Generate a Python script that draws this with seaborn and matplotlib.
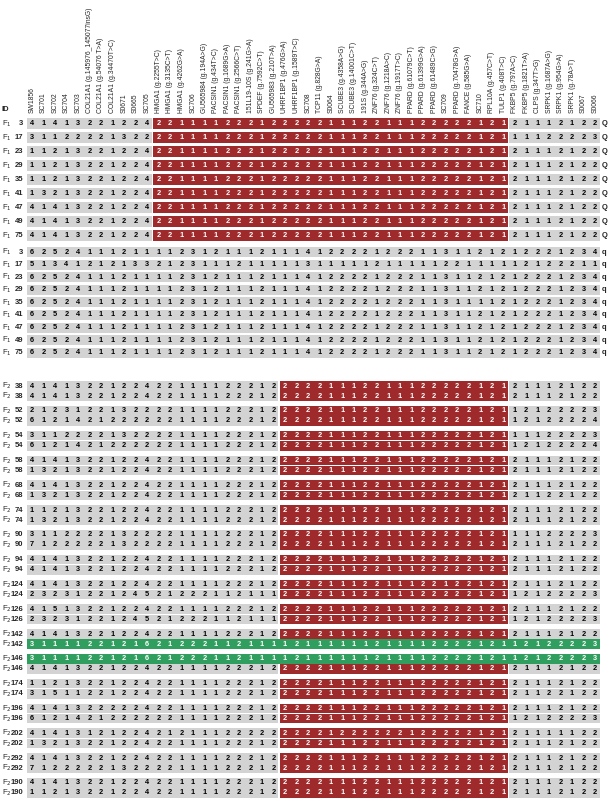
import matplotlib
matplotlib.use("Agg")
import matplotlib.pyplot as plt
import seaborn as sns

markers = [
    "SW1856", "SC701", "SC702", "SC704", "SC703",
    "COL21A1 (g.145976_145077insG)", "COL21A1 (g.54076 T>A)", "COL21A1 (g.34470T>C)",
    "S0671", "S0665", "SC705",
    "HMGA1 (g.2255T>C)", "HMGA1 (g.3135C>T)", "HMGA1 (g.4262G>A)", "SC706",
    "GU565984 (g.194A>G)", "PACSIN1 (g.434T>C)", "PACSIN1 (g.1689G>A)", "PACSIN1 (g.2566C>T)",
    "151L19-10S (g.241G>A)", "SPDEF (g.7592C>T)", "GU565983 (g.210T>A)",
    "UHRF1BP1 (g.476G>A)", "UHRF1BP1 (g.1589T>C)", "SC708", "TCP11 (g.828G>A)", "S0064",
    "SCUBE3 (g.4358A>G)", "SCUBE3 (g.14001C>T)", "191S (g.344A>G)",
    "ZNF76 (g.324C>T)", "ZNF76 (g.1218A>C)", "ZNF76 (g.1917T>C)",
    "PPARD (g.61079C>T)", "PPARD (g.61399G>A)", "PPARD (g.61489C>G)", "SC709",
    "PPARD (g.70478G>A)", "FANCE (g.585G>A)", "SC710", "RPL10A (g.457C>T)", "TULP1 (g.408T>C)",
    "FKBP5 (g.797A>C)", "FKBP5 (g.1821T>A)", "CLPS (g.347T>G)",
    "SRPK1 (g.1687A>G)", "SRPK1 (g.954G>A)", "SRPK1 (g.78A>T)", "S0067", "S0066",
]

# F1 sires carrying Q
f1q_ids = [3, 17, 23, 29, 35, 41, 47, 49, 75]
f1q_geno = [
    "41413221224" + "2211112221222221112211122222121" + "21112122",
    "31122221322" + "2211112221222221112211122222121" + "11122223",
    "11213221224" + "2211112221222221112211122222121" + "21112122",
    "11213221224" + "2211112221222221112211122222121" + "21112122",
    "11213221224" + "2211112221222221112211122222121" + "21112122",
    "13213221224" + "2211112221222221112211122222121" + "21112122",
    "41413221224" + "2211112221222221112211122222121" + "21112122",
    "41413221224" + "2211112221222221112211122222121" + "21112122",
    "41413221224" + "2211112221222221112211122222121" + "21112122",
]

# F1 haplotypes carrying q
f1s_ids = [3, 17, 23, 29, 35, 41, 47, 49, 75]
f1s_geno = [
    "62524111211" + "1123121112111" + "412222122211311212" + "12221234",
    "51341212133" + "2123111211111" + "311111211111221111" + "12122211",
    "62524111211" + "1123121112111" + "412222122211311212" + "12221234",
    "62524111211" + "1123121112111" + "412222122211311212" + "12221234",
    "62524111211" + "1123121112111" + "412222122211311112" + "12221234",
    "62524111211" + "1123121112111" + "412222122211311212" + "12221234",
    "62524111211" + "1123121112111" + "412222122211311212" + "12221234",
    "62524111211" + "1123121112111" + "412222122211311212" + "12221234",
    "62524111211" + "1123121112111" + "412222122211311212" + "12221234",
]

# F2 offspring, two haplotypes each
f2_ids = [38, 52, 54, 58, 68, 74, 90, 94, 124, 126, 142, 146, 174, 196, 202, 292, 190]
f2_geno = [
    "41413221224" "22111122212" "22221112211122222121" "21112122",
    "41413221224" "22111122212" "22221112211122222121" "21112122",
    "21231221322" "22111122212" "22221112211122222121" "12122223",
    "61214212222" "22111122212" "22221112211122222121" "12122224",
    "31122221322" "22111122212" "22221112211122222121" "11122223",
    "61214212222" "22111122212" "22221112211122222121" "12122224",
    "41413221224" "22111122212" "22221112211122222121" "21112122",
    "13213221224" "22111122212" "22221112211122222121" "21112122",
    "41413221224" "22111122212" "22221112211122222121" "21112122",
    "13213221224" "22111122212" "22221112211122222121" "21122122",
    "11213221224" "22111122212" "22221112211122222121" "21112122",
    "13213221224" "22111122212" "22221112211122222121" "21112122",
    "31122221322" "22111122212" "22221112211122222121" "11122223",
    "71222221322" "22111122212" "22221112211122222121" "21112122",
    "41413221224" "22111122212" "22221112211122222121" "21112122",
    "41413221224" "22111122212" "22221112211122222121" "21112122",
    "41413221224" "22111122212" "22221112211122122121" "21112122",
    "23231221245" "21222112111" "22221112211122222121" "12122223",
    "41513221224" "22111122212" "22221112211122222121" "21112122",
    "23231221245" "21222112111" "22221112211122222121" "12122223",
    "41413221224" "22111122212" "22221112211122222121" "21112122",
    "31111221216" "21222112111" "12111111211112222121" "12122223",
    "31111221216" "21222112111" "12111111211112222121" "12122223",
    "41413221224" "22111122212" "22221112211122222121" "21112122",
    "11213221224" "22111122212" "22221112211122222121" "21112122",
    "31511221224" "22111122212" "22221112211122222121" "21122122",
    "41413222224" "22111122212" "22221112211122222121" "21112122",
    "61214212222" "22111122212" "22221112211122222121" "12122223",
    "41413121224" "21211122222" "22221222222122222121" "21111122",
    "13213221224" "22111122212" "22221112211122222121" "21112122",
    "41413221224" "22111122212" "22221112211122222121" "21112122",
    "71222221322" "22111122212" "22221112211122222121" "21112122",
    "41413221224" "22111122212" "22221112211122222121" "21112122",
    "11213221224" "22111122212" "22221112211122222121" "21112122",
]
f2_recomb = [21, 22]  # rows drawn in green

GRAY, RED, GREEN = "#d3d3d3", "#9e2a2b", "#2f9e5e"

sns.set_theme(style="white")
plt.rcParams["font.family"] = ["Liberation Sans", "DejaVu Sans"]

fig = plt.figure(figsize=(6.11, 8.0), dpi=100)
ax = fig.add_axes([0, 0, 1, 1])
x0, pitch = 32.0, 11.49
ax.set_xlim(-x0 / pitch, (611 - x0) / pitch)
ax.set_ylim(800, 0)
ax.axis("off")


def draw_row(y, geno, segments, h, gen, ident, tag=None):
    for start, stop, color in segments:
        ax.barh(y, stop - start + 0.9, left=start - 0.45, height=h, color=color, linewidth=0)
    for c, v in enumerate(geno):
        col = "black"
        for start, stop, color in segments:
            if start <= c <= stop and color != GRAY:
                col = "white"
        ax.text(c, y, v, ha="center", va="center", fontsize=5.3, fontweight="bold", color=col)
    ax.text(-2.65, y, gen, ha="left", va="center", fontsize=5.5)
    ax.text(-0.75, y, str(ident), ha="right", va="center", fontsize=5.5, fontweight="bold")
    if tag:
        ax.text(49.55, y, tag, ha="left", va="center", fontsize=5.5, fontweight="bold")


for i, name in enumerate(markers):
    ax.text(i, 113, name, rotation=90, ha="center", va="bottom", fontsize=4.9)
ax.text(-2.65, 113, "ID", ha="left", va="bottom", fontsize=5.5, fontweight="bold")

for i, (ident, g) in enumerate(zip(f1q_ids, f1q_geno)):
    draw_row(123.5 + 14.0 * i, g, [(0, 10, GRAY), (11, 41, RED), (42, 49, GRAY)],
             10.5, r"F$_1$", ident, "Q")

for i, (ident, g) in enumerate(zip(f1s_ids, f1s_geno)):
    draw_row(252 + 12.6 * i, g, [(0, 49, GRAY)], 10.0, r"F$_1$", ident, "q")

for i, g in enumerate(f2_geno):
    y = 386 + 24.8 * (i // 2) + 10.2 * (i % 2)
    if i in f2_recomb:
        segs = [(0, 49, GREEN)]
    else:
        segs = [(0, 21, GRAY), (22, 41, RED), (42, 49, GRAY)]
    draw_row(y, g, segs, 9.7, r"F$_2$", f2_ids[i // 2])

fig.savefig("out.png", dpi=100)
